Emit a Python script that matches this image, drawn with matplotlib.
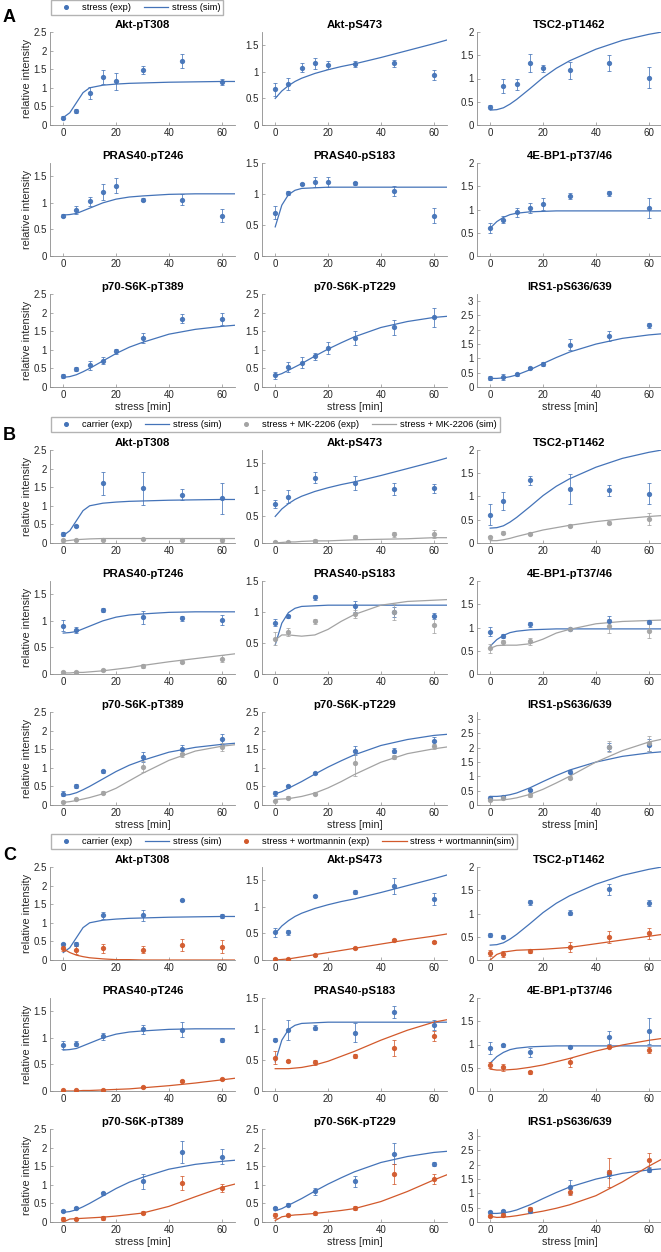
import matplotlib
matplotlib.use("Agg")
import matplotlib.pyplot as plt
from matplotlib.lines import Line2D
from matplotlib.ticker import FuncFormatter

plt.rcParams['font.family'] = ['Liberation Sans', 'DejaVu Sans']

# ---- data ----
proteins = ["Akt-pT308", "Akt-pS473", "TSC2-pT1462",
            "PRAS40-pT246", "PRAS40-pS183", "4E-BP1-pT37/46",
            "p70-S6K-pT389", "p70-S6K-pT229", "IRS1-pS636/639"]
ytops = [2.5, 1.75, 2, 1.75, 1.5, 2, 2.5, 2.5, 3.25]

t_a = [0, 5, 10, 15, 20, 30, 45, 60]
t_bc = [0, 5, 15, 30, 45, 60]
t_sim = [0, 2.5, 5, 7.5, 10, 15, 20, 25, 30, 40, 50, 60, 65]

# model simulation, stress (same in all panels)
sim_stress = [
    [0.20, 0.33, 0.60, 0.87, 1.00, 1.07, 1.10, 1.12, 1.13, 1.15, 1.16, 1.17, 1.17],
    [0.50, 0.64, 0.74, 0.82, 0.88, 0.97, 1.04, 1.10, 1.15, 1.27, 1.40, 1.53, 1.60],
    [0.32, 0.33, 0.37, 0.45, 0.55, 0.78, 1.02, 1.22, 1.38, 1.63, 1.82, 1.95, 2.00],
    [0.77, 0.78, 0.80, 0.85, 0.90, 1.00, 1.07, 1.11, 1.13, 1.16, 1.17, 1.17, 1.17],
    [0.47, 0.82, 0.99, 1.06, 1.09, 1.10, 1.11, 1.11, 1.11, 1.11, 1.11, 1.11, 1.11],
    [0.60, 0.74, 0.83, 0.89, 0.92, 0.95, 0.96, 0.97, 0.97, 0.97, 0.97, 0.97, 0.97],
    [0.26, 0.28, 0.33, 0.41, 0.50, 0.70, 0.90, 1.07, 1.20, 1.42, 1.55, 1.63, 1.66],
    [0.30, 0.36, 0.45, 0.54, 0.63, 0.83, 1.02, 1.19, 1.35, 1.60, 1.76, 1.87, 1.90],
    [0.30, 0.30, 0.32, 0.36, 0.42, 0.60, 0.82, 1.03, 1.22, 1.50, 1.70, 1.82, 1.86],
]
sim_mk = [
    [0.05, 0.07, 0.09, 0.10, 0.11, 0.12, 0.12, 0.12, 0.12, 0.12, 0.12, 0.12, 0.12],
    [0.00, 0.01, 0.02, 0.02, 0.03, 0.04, 0.04, 0.05, 0.06, 0.07, 0.08, 0.10, 0.10],
    [0.05, 0.05, 0.07, 0.10, 0.14, 0.21, 0.28, 0.33, 0.38, 0.46, 0.52, 0.57, 0.59],
    [0.02, 0.02, 0.03, 0.03, 0.04, 0.06, 0.09, 0.12, 0.16, 0.23, 0.29, 0.35, 0.38],
    [0.55, 0.63, 0.63, 0.62, 0.61, 0.63, 0.72, 0.85, 0.96, 1.11, 1.17, 1.19, 1.20],
    [0.55, 0.61, 0.62, 0.62, 0.62, 0.65, 0.75, 0.88, 0.96, 1.08, 1.13, 1.15, 1.16],
    [0.07, 0.09, 0.12, 0.16, 0.20, 0.30, 0.45, 0.65, 0.85, 1.20, 1.45, 1.58, 1.62],
    [0.15, 0.16, 0.17, 0.20, 0.23, 0.32, 0.46, 0.63, 0.82, 1.15, 1.38, 1.51, 1.56],
    [0.17, 0.17, 0.18, 0.21, 0.25, 0.37, 0.55, 0.77, 1.00, 1.50, 1.90, 2.20, 2.30],
]
sim_wm = [
    [0.30, 0.20, 0.13, 0.09, 0.06, 0.03, 0.01, 0.01, 0.00, 0.00, 0.00, 0.00, 0.00],
    [0.00, 0.01, 0.02, 0.04, 0.06, 0.10, 0.14, 0.18, 0.22, 0.30, 0.38, 0.45, 0.49],
    [0.00, 0.12, 0.17, 0.19, 0.21, 0.22, 0.23, 0.25, 0.27, 0.35, 0.43, 0.51, 0.55],
    [0.00, 0.00, 0.00, 0.01, 0.01, 0.02, 0.03, 0.04, 0.06, 0.10, 0.15, 0.21, 0.24],
    [0.36, 0.36, 0.36, 0.37, 0.38, 0.42, 0.48, 0.56, 0.64, 0.82, 0.98, 1.11, 1.15],
    [0.47, 0.45, 0.45, 0.46, 0.47, 0.51, 0.56, 0.63, 0.70, 0.86, 0.99, 1.09, 1.13],
    [0.00, 0.08, 0.09, 0.10, 0.11, 0.13, 0.16, 0.20, 0.24, 0.42, 0.68, 0.93, 1.02],
    [0.04, 0.14, 0.17, 0.19, 0.20, 0.23, 0.27, 0.31, 0.36, 0.55, 0.82, 1.13, 1.27],
    [0.20, 0.16, 0.17, 0.19, 0.22, 0.30, 0.38, 0.48, 0.60, 0.92, 1.40, 1.95, 2.20],
]

# panel A: stress experiment
a_mean = [
    [0.20, 0.38, 0.86, 1.29, 1.17, 1.47, 1.72, 1.15],
    [0.67, 0.77, 1.08, 1.16, 1.13, 1.15, 1.16, 0.94],
    [0.39, 0.84, 0.88, 1.33, 1.22, 1.18, 1.34, 1.02],
    [0.76, 0.87, 1.03, 1.20, 1.32, 1.06, 1.06, 0.76],
    [0.70, 1.02, 1.16, 1.20, 1.19, 1.17, 1.05, 0.65],
    [0.60, 0.78, 0.94, 1.03, 1.12, 1.29, 1.35, 1.03],
    [0.29, 0.49, 0.58, 0.71, 0.96, 1.32, 1.84, 1.83],
    [0.31, 0.54, 0.65, 0.82, 1.05, 1.31, 1.60, 1.87],
    [0.31, 0.36, 0.44, 0.66, 0.80, 1.48, 1.77, 2.15],
]
a_err = [
    [0.03, 0.05, 0.17, 0.18, 0.22, 0.11, 0.18, 0.08],
    [0.12, 0.11, 0.08, 0.11, 0.08, 0.06, 0.07, 0.10],
    [0.04, 0.15, 0.12, 0.20, 0.07, 0.18, 0.17, 0.23],
    [0.03, 0.08, 0.08, 0.15, 0.14, 0.03, 0.10, 0.12],
    [0.10, 0.03, 0.02, 0.08, 0.08, 0.02, 0.08, 0.12],
    [0.10, 0.08, 0.10, 0.10, 0.12, 0.07, 0.05, 0.22],
    [0.05, 0.05, 0.12, 0.09, 0.06, 0.13, 0.12, 0.15],
    [0.10, 0.13, 0.15, 0.10, 0.15, 0.19, 0.20, 0.26],
    [0.06, 0.10, 0.06, 0.03, 0.08, 0.20, 0.17, 0.10],
]

# panel B: carrier vs MK-2206
b_carrier = [
    [0.24, 0.46, 1.60, 1.47, 1.30, 1.20],
    [0.73, 0.87, 1.23, 1.13, 1.01, 1.03],
    [0.61, 0.91, 1.35, 1.16, 1.13, 1.06],
    [0.91, 0.83, 1.21, 1.07, 1.05, 1.02],
    [0.83, 0.93, 1.24, 1.09, 1.00, 0.93],
    [0.91, 0.82, 1.07, 0.97, 1.14, 1.12],
    [0.30, 0.52, 0.91, 1.29, 1.50, 1.77],
    [0.31, 0.52, 0.85, 1.46, 1.46, 1.71],
    [0.25, 0.28, 0.52, 1.16, 2.02, 2.10],
]
b_carrier_err = [
    [0.06, 0.03, 0.30, 0.45, 0.15, 0.42],
    [0.07, 0.12, 0.10, 0.14, 0.11, 0.08],
    [0.23, 0.19, 0.10, 0.32, 0.11, 0.22],
    [0.10, 0.06, 0.04, 0.12, 0.05, 0.09],
    [0.06, 0.02, 0.04, 0.09, 0.08, 0.05],
    [0.10, 0.04, 0.05, 0.02, 0.10, 0.05],
    [0.07, 0.05, 0.04, 0.13, 0.10, 0.15],
    [0.06, 0.02, 0.03, 0.12, 0.06, 0.12],
    [0.05, 0.05, 0.04, 0.05, 0.15, 0.20],
]
b_mk = [
    [0.07, 0.07, 0.09, 0.10, 0.08, 0.07],
    [0.02, 0.02, 0.04, 0.12, 0.16, 0.17],
    [0.12, 0.22, 0.20, 0.37, 0.44, 0.52],
    [0.03, 0.03, 0.07, 0.15, 0.23, 0.29],
    [0.57, 0.68, 0.85, 0.97, 1.00, 0.79],
    [0.55, 0.68, 0.70, 0.96, 1.03, 0.92],
    [0.08, 0.15, 0.33, 1.03, 1.37, 1.56],
    [0.12, 0.20, 0.30, 1.12, 1.30, 1.58],
    [0.18, 0.25, 0.35, 0.96, 2.04, 2.15],
]
b_mk_err = [
    [0.03, 0.02, 0.02, 0.03, 0.03, 0.04],
    [0.02, 0.02, 0.03, 0.03, 0.05, 0.07],
    [0.04, 0.03, 0.03, 0.03, 0.04, 0.13],
    [0.02, 0.02, 0.02, 0.03, 0.03, 0.06],
    [0.10, 0.07, 0.04, 0.06, 0.13, 0.13],
    [0.10, 0.05, 0.07, 0.02, 0.15, 0.15],
    [0.02, 0.02, 0.04, 0.14, 0.07, 0.12],
    [0.02, 0.03, 0.04, 0.35, 0.05, 0.07],
    [0.04, 0.05, 0.06, 0.05, 0.20, 0.25],
]

# panel C: carrier vs wortmannin
c_carrier = [
    [0.42, 0.43, 1.20, 1.20, 1.60, 1.18],
    [0.52, 0.52, 1.21, 1.28, 1.40, 1.15],
    [0.53, 0.50, 1.24, 1.02, 1.52, 1.23],
    [0.87, 0.89, 1.03, 1.16, 1.15, 0.96],
    [0.83, 0.98, 1.02, 0.94, 1.27, 1.06],
    [0.93, 0.98, 0.83, 0.94, 1.16, 1.30],
    [0.29, 0.37, 0.77, 1.10, 1.88, 1.76],
    [0.37, 0.47, 0.82, 1.10, 1.84, 1.56],
    [0.34, 0.37, 0.40, 1.22, 1.68, 1.83],
]
c_carrier_err = [
    [0.05, 0.05, 0.10, 0.15, 0.02, 0.05],
    [0.08, 0.05, 0.02, 0.03, 0.15, 0.12],
    [0.04, 0.03, 0.05, 0.06, 0.12, 0.07],
    [0.08, 0.05, 0.07, 0.08, 0.14, 0.03],
    [0.03, 0.16, 0.04, 0.15, 0.10, 0.08],
    [0.13, 0.03, 0.09, 0.02, 0.14, 0.28],
    [0.03, 0.03, 0.04, 0.20, 0.30, 0.20],
    [0.04, 0.05, 0.10, 0.15, 0.28, 0.06],
    [0.05, 0.05, 0.08, 0.25, 0.15, 0.10],
]
c_wm = [
    [0.33, 0.27, 0.31, 0.28, 0.40, 0.36],
    [0.02, 0.02, 0.09, 0.22, 0.37, 0.34],
    [0.15, 0.13, 0.20, 0.28, 0.49, 0.57],
    [0.01, 0.01, 0.02, 0.07, 0.19, 0.23],
    [0.54, 0.48, 0.46, 0.56, 0.70, 0.89],
    [0.56, 0.51, 0.40, 0.62, 0.95, 0.88],
    [0.08, 0.08, 0.10, 0.25, 1.05, 0.91],
    [0.18, 0.18, 0.23, 0.37, 1.30, 1.16],
    [0.21, 0.26, 0.45, 1.05, 1.73, 2.15],
]
c_wm_err = [
    [0.10, 0.10, 0.12, 0.10, 0.17, 0.18],
    [0.02, 0.01, 0.02, 0.02, 0.02, 0.02],
    [0.06, 0.06, 0.04, 0.10, 0.13, 0.12],
    [0.01, 0.01, 0.01, 0.02, 0.02, 0.02],
    [0.10, 0.02, 0.04, 0.03, 0.13, 0.08],
    [0.07, 0.07, 0.03, 0.10, 0.03, 0.07],
    [0.05, 0.03, 0.05, 0.04, 0.18, 0.10],
    [0.06, 0.03, 0.03, 0.06, 0.27, 0.13],
    [0.05, 0.04, 0.07, 0.12, 0.50, 0.27],
]

BLUE = "#4473B8"
GRAY = "#A3A3A3"
ORANGE = "#D2592B"

W, H = 661, 1252
fig = plt.figure(figsize=(W / 100, H / 100), dpi=100)

col_left = [50, 262, 477]
row_top = [32, 163, 294]
panel_off = [0, 418, 835]
aw, ah = 185, 93


def make_ax(p, i):
    r, c = divmod(i, 3)
    L = col_left[c]
    T = panel_off[p] + row_top[r]
    ax = fig.add_axes([L / W, 1 - (T + ah) / H, aw / W, ah / H])
    ax.set_xlim(-5, 65)
    ax.set_ylim(0, ytops[i])
    ax.set_xticks([0, 20, 40, 60])
    yt = [k * 0.5 for k in range(int(ytops[i] / 0.5) + 1)]
    ax.set_yticks(yt)
    ax.yaxis.set_major_formatter(FuncFormatter(lambda v, pos: "%g" % v))
    for s in ["top", "right"]:
        ax.spines[s].set_visible(False)
    for s in ["left", "bottom"]:
        ax.spines[s].set_color("#8C8C8C")
        ax.spines[s].set_linewidth(0.6)
    ax.tick_params(direction="in", length=2, width=0.5, color="#8C8C8C",
                   labelsize=7, labelcolor="#262626", pad=2.5)
    ax.set_title(proteins[i], fontsize=8.2, fontweight="bold", pad=3)
    if c == 0:
        ax.set_ylabel("relative intensity", fontsize=7.8, color="#262626", labelpad=1)
    if r == 2:
        ax.set_xlabel("stress [min]", fontsize=7.8, color="#262626", labelpad=1)
    return ax


def dots(ax, t, m, e, color):
    ax.errorbar(t, m, yerr=e, fmt="o", ms=2.8, color=color, mec=color,
                ecolor=color, elinewidth=0.6, capsize=1.5, capthick=0.6,
                alpha=0.9, zorder=3)


def add_legend(y_px, labels, colors):
    handles = []
    for k, lab in enumerate(labels):
        if k % 2 == 0:
            handles.append(Line2D([], [], ls="none", marker="o", ms=2.6, color=colors[k]))
        else:
            handles.append(Line2D([], [], lw=0.9, color=colors[k]))
    fig.legend(handles, labels, loc="upper left", ncol=len(labels),
               bbox_to_anchor=(51 / W, 1 - y_px / H), fontsize=6.7,
               frameon=True, fancybox=False, edgecolor="#A0A0A0",
               borderpad=0.3, handlelength=2.6, handletextpad=0.4,
               columnspacing=1.4, borderaxespad=0)


# panel A
for i in range(9):
    ax = make_ax(0, i)
    dots(ax, t_a, a_mean[i], a_err[i], BLUE)
    ax.plot(t_sim, sim_stress[i], color=BLUE, lw=0.9)
add_legend(0.5, ["stress (exp)", "stress (sim)"], [BLUE, BLUE])

# panel B
for i in range(9):
    ax = make_ax(1, i)
    dots(ax, t_bc, b_carrier[i], b_carrier_err[i], BLUE)
    ax.plot(t_sim, sim_stress[i], color=BLUE, lw=0.9)
    dots(ax, t_bc, b_mk[i], b_mk_err[i], GRAY)
    ax.plot(t_sim, sim_mk[i], color=GRAY, lw=0.9)
add_legend(417, ["carrier (exp)", "stress (sim)", "stress + MK-2206 (exp)",
                 "stress + MK-2206 (sim)"], [BLUE, BLUE, GRAY, GRAY])

# panel C
for i in range(9):
    ax = make_ax(2, i)
    dots(ax, t_bc, c_carrier[i], c_carrier_err[i], BLUE)
    ax.plot(t_sim, sim_stress[i], color=BLUE, lw=0.9)
    dots(ax, t_bc, c_wm[i], c_wm_err[i], ORANGE)
    ax.plot(t_sim, sim_wm[i], color=ORANGE, lw=0.9)
add_legend(834, ["carrier (exp)", "stress (sim)", "stress + wortmannin (exp)",
                 "stress + wortmannin(sim)"], [BLUE, BLUE, ORANGE, ORANGE])

for letter, y in zip(["A", "B", "C"], [17, 436, 855]):
    fig.text(3 / W, 1 - y / H, letter, fontsize=13, fontweight="bold", va="center")

fig.savefig("out.png", dpi=100)
